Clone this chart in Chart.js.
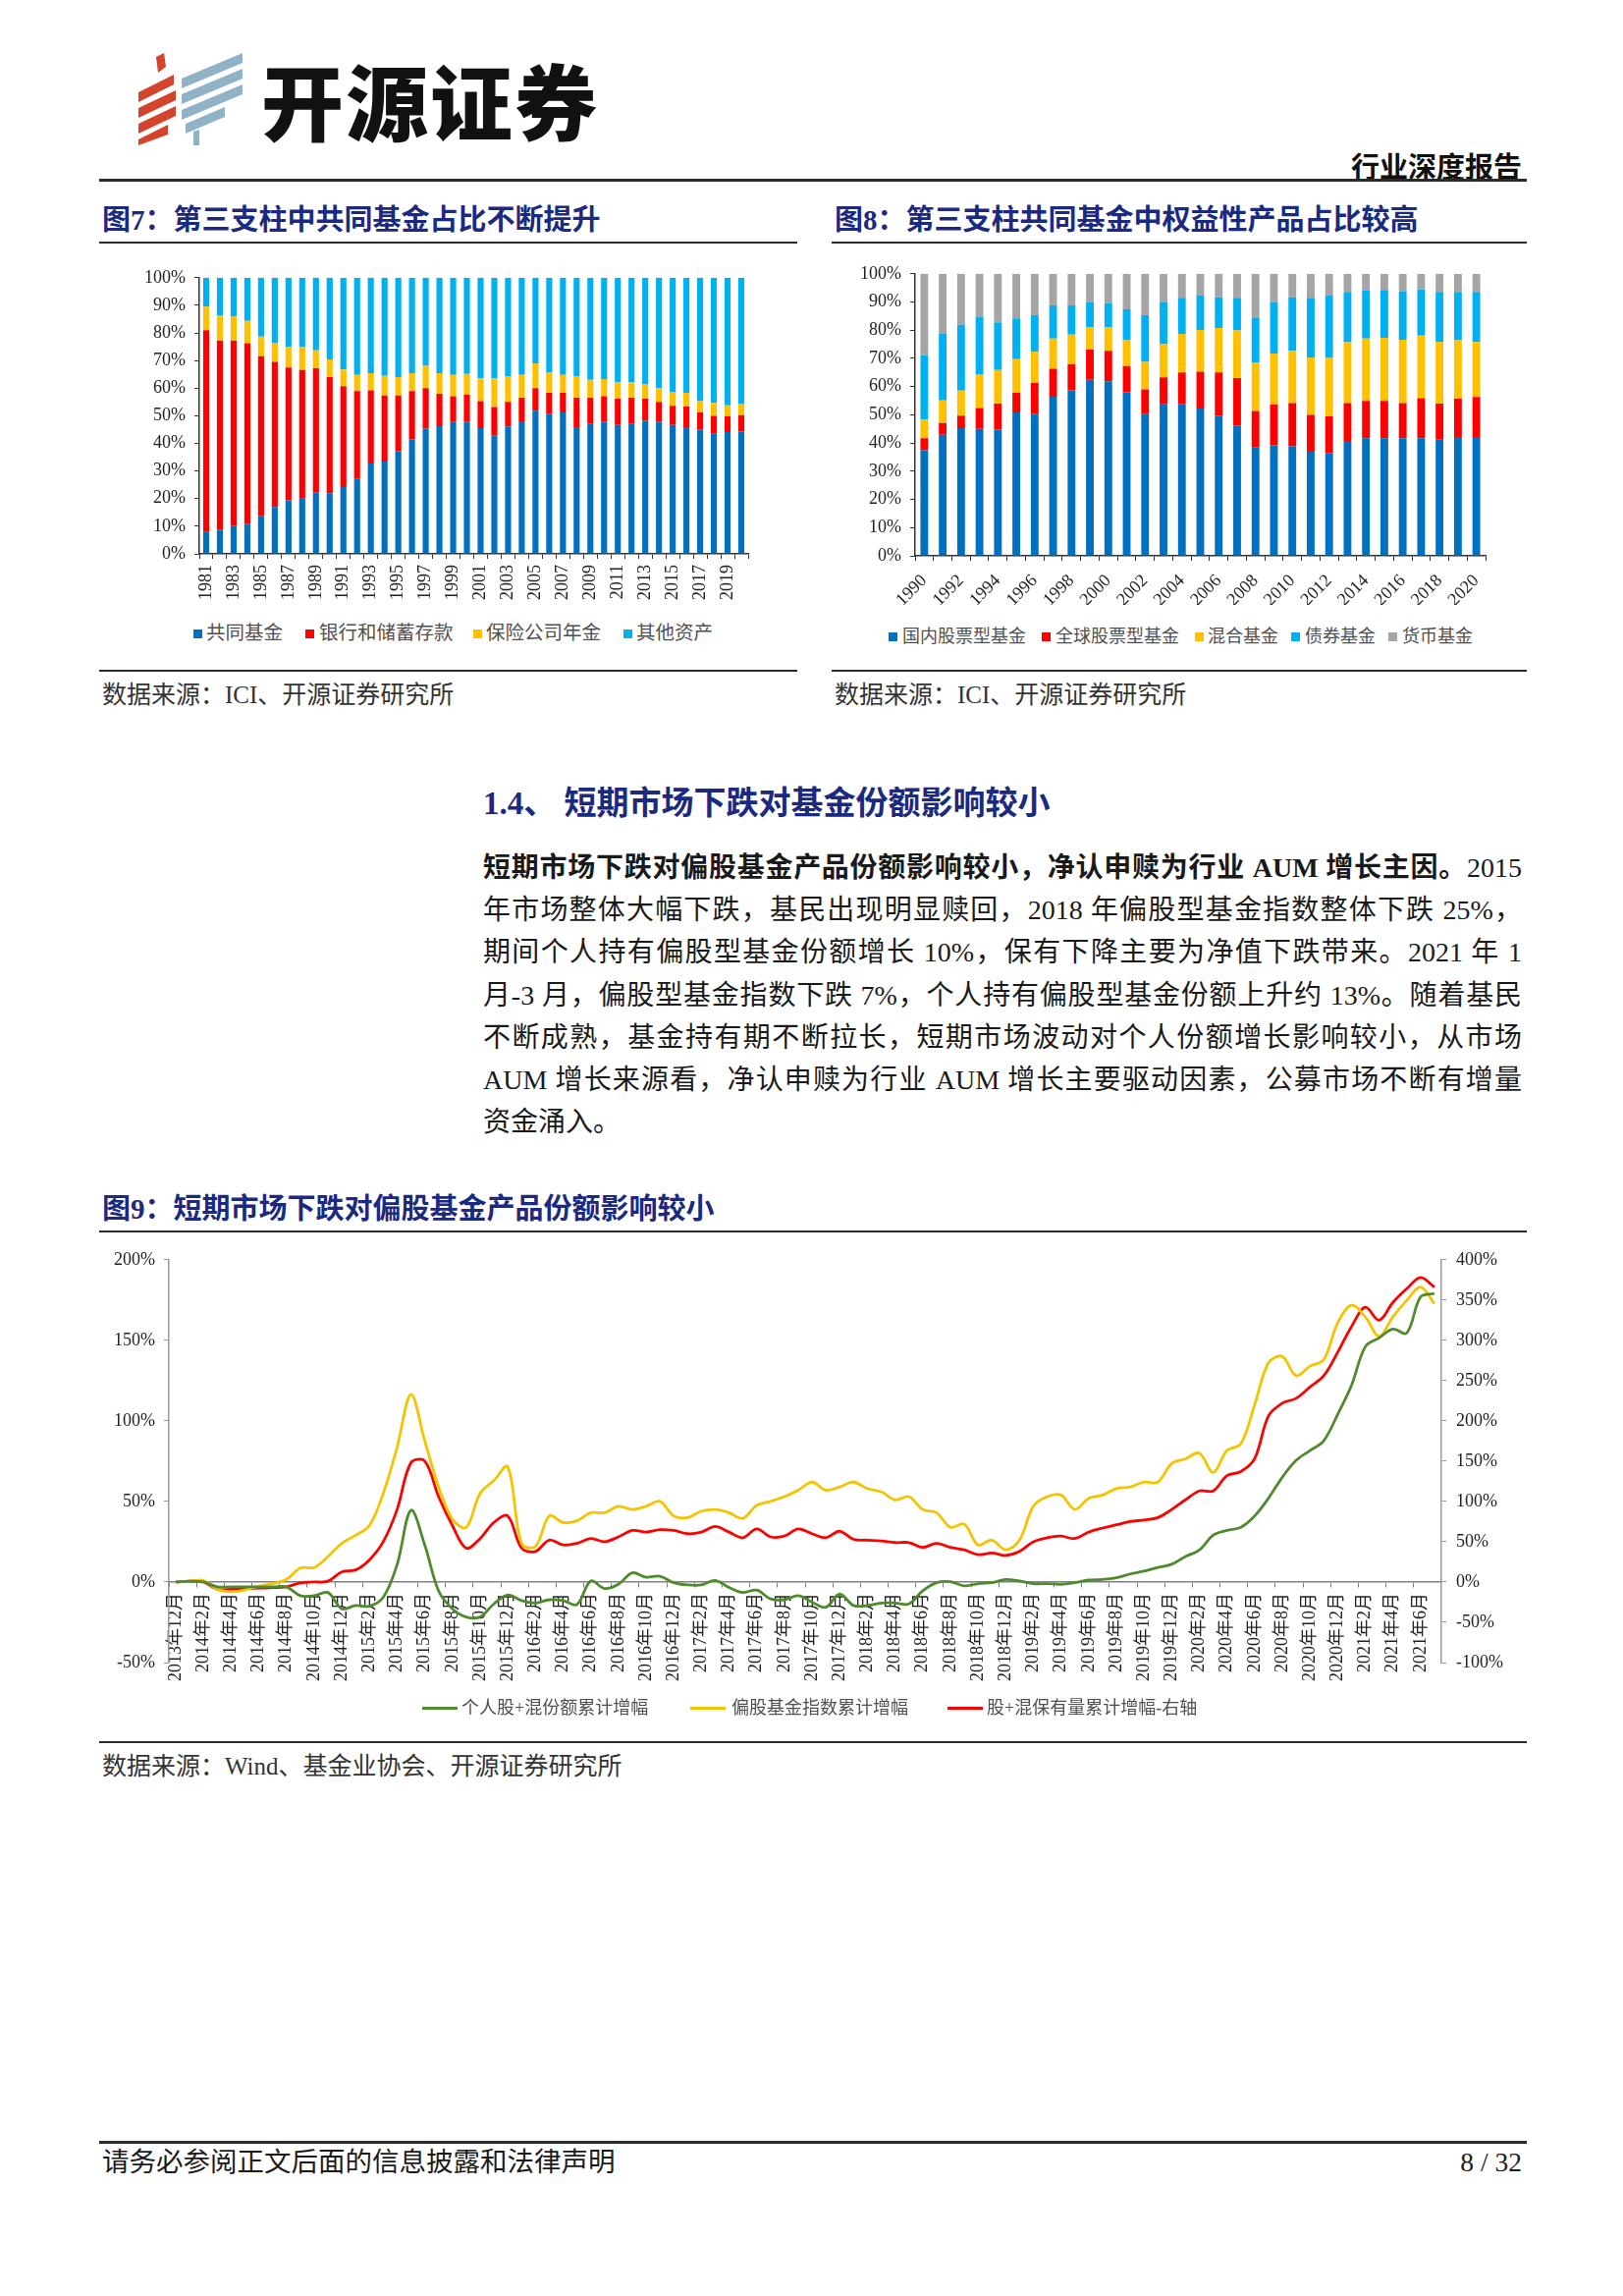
<!DOCTYPE html>
<html>
<head>
<meta charset="utf-8">
<script src="https://cdn.jsdelivr.net/npm/chart.js@4.4.0/dist/chart.umd.min.js"></script>
<style>
html,body{margin:0;padding:0;background:#fff;}
#page{position:relative;width:1653px;height:2338px;overflow:hidden;background:#fff;font-family:"Liberation Serif","Noto Sans CJK SC",serif;color:#1a1a1a;}
.abs{position:absolute;white-space:nowrap;}
.rule{position:absolute;background:#2a2a2a;}
.ftitle{position:absolute;white-space:nowrap;font-family:"Liberation Serif","Noto Sans CJK SC",serif;font-weight:700;color:#1B2A80;font-size:29px;line-height:29px;}
.src{position:absolute;white-space:nowrap;font-size:25px;line-height:25px;color:#333;}
.para{position:absolute;left:492px;width:1058px;font-size:28px;line-height:28px;height:28px;white-space:nowrap;text-align:justify;text-align-last:justify;color:#1a1a1a;}
.leg{position:absolute;white-space:nowrap;font-size:18px;line-height:18px;color:#505050;}
.leg7{font-size:19.5px;line-height:20px;}
.sq{position:absolute;width:9px;height:9px;}
.ln{position:absolute;height:3px;width:36px;}
canvas{position:absolute;}
</style>
</head>
<body>
<div id="page">
  <!-- logo -->
  <svg class="abs" style="left:139px;top:54px;" width="110" height="94" viewBox="0 0 110 94">
    <g fill="#D4432C">
      <polygon points="20,4 28,0 30,14 22,20"/>
      <polygon points="2,40 38,22 38,32 2,50"/>
      <polygon points="2,56 40,38 40,48 2,66"/>
      <polygon points="2,72 40,54 40,64 2,82"/>
      <polygon points="2,88 32,73 32,83 2,94"/>
    </g>
    <g fill="#8FB2C6">
      <polygon points="46,26 108,0 108,10 46,36"/>
      <polygon points="46,42 108,16 108,26 46,52"/>
      <polygon points="46,58 108,32 108,42 46,68"/>
      <polygon points="50,72 90,55 90,65 50,82"/>
      <polygon points="58,80 64,78 64,94 58,94"/>
    </g>
  </svg>
  <div class="abs" style="left:266px;top:56px;font-family:'Noto Sans CJK SC';font-weight:900;font-size:84px;line-height:90px;color:#111;letter-spacing:2px;">开源证券</div>
  <div class="abs" style="right:103px;top:153px;font-family:'Noto Sans CJK SC';font-weight:700;font-size:29px;line-height:30px;color:#111;">行业深度报告</div>
  <div class="rule" style="left:101px;top:182px;width:1454px;height:3px;"></div>

  <!-- figure 7 / 8 titles -->
  <div class="ftitle" style="left:104px;top:210px;">图7：第三支柱中共同基金占比不断提升</div>
  <div class="ftitle" style="left:850px;top:210px;">图8：第三支柱共同基金中权益性产品占比较高</div>
  <div class="rule" style="left:101px;top:246px;width:711px;height:2px;"></div>
  <div class="rule" style="left:847px;top:246px;width:708px;height:2px;"></div>

  <canvas id="c7" width="720" height="351" style="left:100px;top:263px;width:720px;height:351px;"></canvas>
  <canvas id="c8" width="720" height="357" style="left:840px;top:259px;width:720px;height:357px;"></canvas>

  <!-- legend 7 -->
  <div class="sq" style="left:197px;top:641px;background:#0070C0;"></div><div class="leg leg7" style="left:210px;top:635px;">共同基金</div>
  <div class="sq" style="left:311px;top:641px;background:#FF0000;"></div><div class="leg leg7" style="left:325px;top:635px;">银行和储蓄存款</div>
  <div class="sq" style="left:482px;top:641px;background:#FFC000;"></div><div class="leg leg7" style="left:495px;top:635px;">保险公司年金</div>
  <div class="sq" style="left:635px;top:641px;background:#00B0F0;"></div><div class="leg leg7" style="left:648px;top:635px;">其他资产</div>

  <!-- legend 8 -->
  <div class="sq" style="left:905px;top:644px;background:#0070C0;"></div><div class="leg" style="left:919px;top:639px;">国内股票型基金</div>
  <div class="sq" style="left:1061px;top:644px;background:#FF0000;"></div><div class="leg" style="left:1075px;top:639px;">全球股票型基金</div>
  <div class="sq" style="left:1217px;top:644px;background:#FFC000;"></div><div class="leg" style="left:1230px;top:639px;">混合基金</div>
  <div class="sq" style="left:1315px;top:644px;background:#00B0F0;"></div><div class="leg" style="left:1329px;top:639px;">债券基金</div>
  <div class="sq" style="left:1414px;top:644px;background:#A5A5A5;"></div><div class="leg" style="left:1428px;top:639px;">货币基金</div>

  <div class="rule" style="left:101px;top:682px;width:711px;height:2px;"></div>
  <div class="rule" style="left:847px;top:682px;width:708px;height:2px;"></div>
  <div class="src" style="left:104px;top:695px;">数据来源：ICI、开源证券研究所</div>
  <div class="src" style="left:850px;top:695px;">数据来源：ICI、开源证券研究所</div>

  <!-- section -->
  <div class="abs" style="left:492px;top:801px;font-family:'Liberation Serif','Noto Sans CJK SC',serif;font-weight:700;font-size:33px;line-height:34px;color:#1B2A80;">1.4、 短期市场下跌对基金份额影响较小</div>
  <div class="para" style="top:870px;"><b>短期市场下跌对偏股基金产品份额影响较小，净认申赎为行业 AUM 增长主因。</b>2015</div>
  <div class="para" style="top:913px;">年市场整体大幅下跌，基民出现明显赎回，2018 年偏股型基金指数整体下跌 25%，</div>
  <div class="para" style="top:956px;">期间个人持有偏股型基金份额增长 10%，保有下降主要为净值下跌带来。2021 年 1</div>
  <div class="para" style="top:1000px;">月-3 月，偏股型基金指数下跌 7%，个人持有偏股型基金份额上升约 13%。随着基民</div>
  <div class="para" style="top:1043px;">不断成熟，基金持有期不断拉长，短期市场波动对个人份额增长影响较小，从市场</div>
  <div class="para" style="top:1086px;">AUM 增长来源看，净认申赎为行业 AUM 增长主要驱动因素，公募市场不断有增量</div>
  <div class="para" style="top:1129px;text-align:left;text-align-last:left;">资金涌入。</div>

  <!-- figure 9 -->
  <div class="ftitle" style="left:104px;top:1217px;">图9：短期市场下跌对偏股基金产品份额影响较小</div>
  <div class="rule" style="left:101px;top:1253px;width:1454px;height:2px;"></div>
  <canvas id="c9" width="1460" height="470" style="left:100px;top:1262px;width:1460px;height:470px;"></canvas>
  <div class="ln" style="left:430px;top:1738px;background:#4F8A2E;"></div><div class="leg" style="left:470px;top:1730px;">个人股+混份额累计增幅</div>
  <div class="ln" style="left:703px;top:1738px;background:#F5C400;"></div><div class="leg" style="left:745px;top:1730px;">偏股基金指数累计增幅</div>
  <div class="ln" style="left:965px;top:1738px;background:#FF0000;"></div><div class="leg" style="left:1005px;top:1730px;">股+混保有量累计增幅-右轴</div>
  <div class="rule" style="left:101px;top:1773px;width:1454px;height:2px;"></div>
  <div class="src" style="left:104px;top:1786px;">数据来源：Wind、基金业协会、开源证券研究所</div>

  <!-- footer -->
  <div class="rule" style="left:101px;top:2180px;width:1454px;height:3px;"></div>
  <div class="abs" style="left:104px;top:2187px;font-size:27.5px;line-height:30px;color:#1a1a1a;">请务必参阅正文后面的信息披露和法律声明</div>
  <div class="abs" style="right:103px;top:2187px;font-size:27.5px;line-height:30px;color:#1a1a1a;">8 / 32</div>
</div>

<script>
// ---------- Figure 7 data ----------
const years7 = ['1981','1982','1983','1984','1985','1986','1987','1988','1989','1990',
  '1991','1992','1993','1994','1995','1996','1997','1998','1999','2000',
  '2001','2002','2003','2004','2005','2006','2007','2008','2009','2010',
  '2011','2012','2013','2014','2015','2016','2017','2018','2019','2020'];
const mutualFund7 = [7.9,8.8,10.2,10.9,13.6,17.0,19.4,20.0,22.3,22.0,
  24.2,27.1,32.7,33.4,37.2,41.4,45.3,46.2,47.9,47.9,
  45.5,42.9,46.1,48.0,51.8,50.6,51.2,45.9,47.0,47.9,
  46.7,47.0,48.2,47.9,46.7,45.9,45.0,43.5,44.1,44.4];
const bankDeposit7 = [73.1,68.5,67.1,65.4,58.0,52.5,48.1,46.6,44.9,42.0,
  36.5,31.8,26.5,23.9,20.1,17.5,14.7,11.8,9.2,9.8,
  9.8,10.3,8.9,8.5,8.2,7.7,7.1,10.6,9.5,9.2,
  9.5,9.5,8.0,7.1,6.9,7.4,6.2,6.5,5.7,5.8];
const insurance7 = [8.5,9.1,8.7,8.1,7.1,7.0,7.4,8.3,6.5,6.4,
  6.1,5.9,6.2,7.2,6.7,6.5,8.1,7.4,7.7,7.5,
  8.3,10.4,9.2,8.3,9.0,7.3,6.5,7.7,6.5,6.2,
  5.9,5.6,5.1,5.0,4.9,5.0,4.1,4.7,4.0,4.2];
const other7 = [10.5,13.6,14.0,15.6,21.3,23.5,25.1,25.1,26.3,29.6,
  33.2,35.2,34.6,35.5,36.0,34.6,31.9,34.6,35.2,34.8,
  36.4,36.4,35.8,35.2,31.0,34.4,35.2,35.8,37.0,36.7,
  37.9,37.9,38.7,40.0,41.5,41.7,44.7,45.3,46.2,45.6];

// ---------- Figure 8 data ----------
const years8 = ['1990','1991','1992','1993','1994','1995','1996','1997','1998','1999','2000',
  '2001','2002','2003','2004','2005','2006','2007','2008','2009','2010',
  '2011','2012','2013','2014','2015','2016','2017','2018','2019','2020'];
const domesticEquity8 = [37.4,42.9,45.3,45.0,44.7,50.8,50.2,56.4,58.7,62.4,61.9,
  58.0,50.2,53.7,53.7,52.2,49.7,46.2,38.4,39.2,38.8,
  36.9,36.5,40.7,41.7,41.7,41.7,41.7,41.2,42.1,42.1];
const globalEquity8 = [4.3,4.2,4.4,7.4,9.3,7.0,11.1,9.9,9.3,10.7,10.8,
  9.3,8.8,9.6,11.3,13.1,15.3,16.8,13.0,14.5,15.3,
  13.1,12.9,13.4,13.2,13.2,12.4,14.2,12.8,13.6,14.2];
const hybrid8 = [6.6,8.0,8.9,11.8,11.9,11.9,11.0,10.7,10.4,7.9,8.3,
  9.1,9.8,11.7,13.7,14.8,15.8,16.9,17.1,18.0,18.6,
  20.3,20.8,21.6,22.1,22.4,22.5,22.2,21.8,20.7,19.5];
const bond8 = [22.9,23.6,23.3,20.6,16.9,14.5,13.0,11.8,10.4,9.0,8.7,
  11.0,16.5,14.8,12.8,12.3,10.9,11.6,16.0,18.1,19.0,
  21.2,22.2,17.9,17.1,17.0,17.2,16.4,17.8,17.2,17.8];
const money8 = [28.8,21.3,18.1,15.2,17.2,15.8,14.7,11.2,11.2,10.0,10.3,
  12.6,14.7,10.2,8.5,7.6,8.3,8.5,15.5,10.2,8.3,
  8.5,7.6,6.4,5.9,5.7,6.2,5.5,6.4,6.4,6.4];

// ---------- Figure 9 data ----------
const months9 = ['2013年12月',
  '2014年1月','2014年2月','2014年3月','2014年4月','2014年5月','2014年6月','2014年7月','2014年8月','2014年9月','2014年10月','2014年11月','2014年12月',
  '2015年1月','2015年2月','2015年3月','2015年4月','2015年5月','2015年6月','2015年7月','2015年8月','2015年9月','2015年10月','2015年11月','2015年12月',
  '2016年1月','2016年2月','2016年3月','2016年4月','2016年5月','2016年6月','2016年7月','2016年8月','2016年9月','2016年10月','2016年11月','2016年12月',
  '2017年1月','2017年2月','2017年3月','2017年4月','2017年5月','2017年6月','2017年7月','2017年8月','2017年9月','2017年10月','2017年11月','2017年12月',
  '2018年1月','2018年2月','2018年3月','2018年4月','2018年5月','2018年6月','2018年7月','2018年8月','2018年9月','2018年10月','2018年11月','2018年12月',
  '2019年1月','2019年2月','2019年3月','2019年4月','2019年5月','2019年6月','2019年7月','2019年8月','2019年9月','2019年10月','2019年11月','2019年12月',
  '2020年1月','2020年2月','2020年3月','2020年4月','2020年5月','2020年6月','2020年7月','2020年8月','2020年9月','2020年10月','2020年11月','2020年12月',
  '2021年1月','2021年2月','2021年3月','2021年4月','2021年5月','2021年6月','2021年7月'];
const shareGrowth9 = [0,0.5,0,-3,-3,-3,-3,-3,-3,-8.5,-8.5,-6.5,-16.6,
  -14.6,-15,-9.5,10.7,44.5,23,-5.5,-16.6,-21.7,-21.7,-13.6,-8,
  -11.5,-13,-11,-11.5,-14,0.6,-4,-1.4,5.7,3,3.6,-0.4,
  -1.8,-1.8,1,-3.4,-6.5,-5,-10.5,-11,-8.5,-12.5,-15.6,-7.5,
  -14.6,-14.6,-13,-13,-13.6,-5.5,-0.4,0.2,-2.4,-1,-0.4,1.6,
  0.6,-1,-1,-1.4,-0.4,1.2,1.6,2.6,5,6.7,9,11,
  15.8,19.8,29,32,34,41,52,65,75.5,81.6,87.7,104,
  122,146,151.5,157,154.5,177,179];
const indexGrowth9 = [0,0.5,1,-4.5,-6,-5,-2.5,-1,1.6,8.7,9,15.8,24,
  29,35,55,83.6,116.4,87.7,59,39,34,55,63,71.5,
  24,22,41,37,38,43,43,47,45,47,50,41,
  40,44,45,43,39.5,47.6,50,53,57,62,57,59,
  62,58,56,51,53,45,43,34,36,23,26,20,
  26,47,53,54,45,52,54,58,59,62,62,73.5,
  76.5,80,68,81.6,85.7,110,136,140,128,134,138,160.6,
  171.7,164.6,152.5,164.6,174.8,183,172.7];
const holdingGrowth9 = [0,1,0,-9,-9,-8,-7.5,-7,-6,-1,0,1,12.5,
  15,27.5,50,90,148,150,106,70,42,54,74,82,
  42,38,52,46,48,54,50,56,64,62,65,64,
  60,62,69,62,55,66,56,57,66,60,55,63,
  53,52,51,49,49,43,48,43,40,34,36,33,
  38,50,55,57,54,62,67,71,75,77,80,90,
  102,113,113,132,137,153,206,222,228,242,256,285,
  317,341,325,347,364,378,366];

// ---------- common styling ----------
const FONT = '"Liberation Serif", "Noto Sans CJK SC", serif';
Chart.defaults.font.family = FONT;
Chart.defaults.font.size = 18;
Chart.defaults.color = '#222';

function stackedBar(id, labels, sets, o) {
  return new Chart(document.getElementById(id), {
    type: 'bar',
    data: {
      labels: labels,
      datasets: sets.map(s => ({
        label: s.label, data: s.data, backgroundColor: s.color,
        borderWidth: 0, barPercentage: o.barPct, categoryPercentage: 1
      }))
    },
    options: {
      responsive: false, animation: false, devicePixelRatio: 1,
      layout: { padding: { top: 0, right: o.padRight, left: 0, bottom: 0 } },
      plugins: { legend: { display: false }, tooltip: { enabled: false } },
      scales: {
        x: {
          stacked: true, offset: true,
          grid: { display: true, drawOnChartArea: false, offset: true, tickLength: 5, color: '#333', lineWidth: 1 },
          border: { color: '#333', width: 1.5 },
          ticks: {
            autoSkip: false, maxRotation: o.rot, minRotation: o.rot, padding: o.xPad,
            color: '#222', font: { size: 18 },
            callback: (v, i) => (i % 2 === 0 ? labels[i] : '')
          },
          afterFit: s => { s.height = o.xH; }
        },
        y: {
          stacked: true, min: 0, max: 100,
          grid: { drawOnChartArea: false, tickLength: 5, color: '#333' },
          border: { color: '#333', width: 1.5 },
          ticks: { stepSize: 10, padding: 9, color: '#222', font: { size: 18 }, callback: v => v + '%' },
          afterFit: s => { s.width = o.yW; }
        }
      }
    }
  });
}

stackedBar('c7', years7, [
  { label: '共同基金', data: mutualFund7, color: '#0070C0' },
  { label: '银行和储蓄存款', data: bankDeposit7, color: '#FF0000' },
  { label: '保险公司年金', data: insurance7, color: '#FFC000' },
  { label: '其他资产', data: other7, color: '#00B0F0' }
], { barPct: 0.44, padRight: 58, yW: 103, xH: 50, rot: 90, xPad: 6 });

stackedBar('c8', years8, [
  { label: '国内股票型基金', data: domesticEquity8, color: '#0070C0' },
  { label: '全球股票型基金', data: globalEquity8, color: '#FF0000' },
  { label: '混合基金', data: hybrid8, color: '#FFC000' },
  { label: '债券基金', data: bond8, color: '#00B0F0' },
  { label: '货币基金', data: money8, color: '#A5A5A5' }
], { barPct: 0.42, padRight: 47, yW: 92, xH: 50, rot: 45, xPad: 10 });

new Chart(document.getElementById('c9'), {
  type: 'line',
  data: {
    labels: months9,
    datasets: [
      { label: '个人股+混份额累计增幅', data: shareGrowth9, borderColor: '#4F8A2E', yAxisID: 'y' },
      { label: '偏股基金指数累计增幅', data: indexGrowth9, borderColor: '#F5C400', yAxisID: 'y' },
      { label: '股+混保有量累计增幅-右轴', data: holdingGrowth9, borderColor: '#FF0000', yAxisID: 'y1' }
    ]
  },
  options: {
    responsive: false, animation: false, devicePixelRatio: 1,
    layout: { padding: { top: 20, bottom: 39, left: 0, right: 0 } },
    elements: { point: { radius: 0 }, line: { tension: 0.35, borderWidth: 2.8, fill: false } },
    plugins: { legend: { display: false }, tooltip: { enabled: false } },
    scales: {
      x: {
        position: { y: 0 }, offset: true,
        grid: {
          drawOnChartArea: false, offset: true, tickLength: 5,
          color: ctx => (ctx.index !== undefined && ctx.index % 2 === 0 ? '#808080' : 'rgba(0,0,0,0)')
        },
        border: { color: '#808080', width: 1.5 },
        ticks: {
          autoSkip: false, maxRotation: 90, minRotation: 90, padding: 6,
          color: '#222', font: { size: 18 },
          callback: (v, i) => (i % 2 === 0 ? months9[i] : '')
        },
        afterFit: s => { s.height = 0; }
      },
      y: {
        position: 'left', min: -50, max: 200,
        grid: { drawOnChartArea: false, tickLength: 5, color: '#999' },
        border: { color: '#999', width: 1.5 },
        ticks: { stepSize: 50, padding: 9, color: '#222', font: { size: 18 }, callback: v => v + '%' },
        afterFit: s => { s.width = 72; }
      },
      y1: {
        position: 'right', min: -100, max: 400,
        grid: { drawOnChartArea: false, tickLength: 5, color: '#999' },
        border: { color: '#999', width: 1.5 },
        ticks: { stepSize: 50, padding: 10, color: '#222', font: { size: 18 }, callback: v => v + '%' },
        afterFit: s => { s.width = 92; }
      }
    }
  }
});
</script>
</body>
</html>
